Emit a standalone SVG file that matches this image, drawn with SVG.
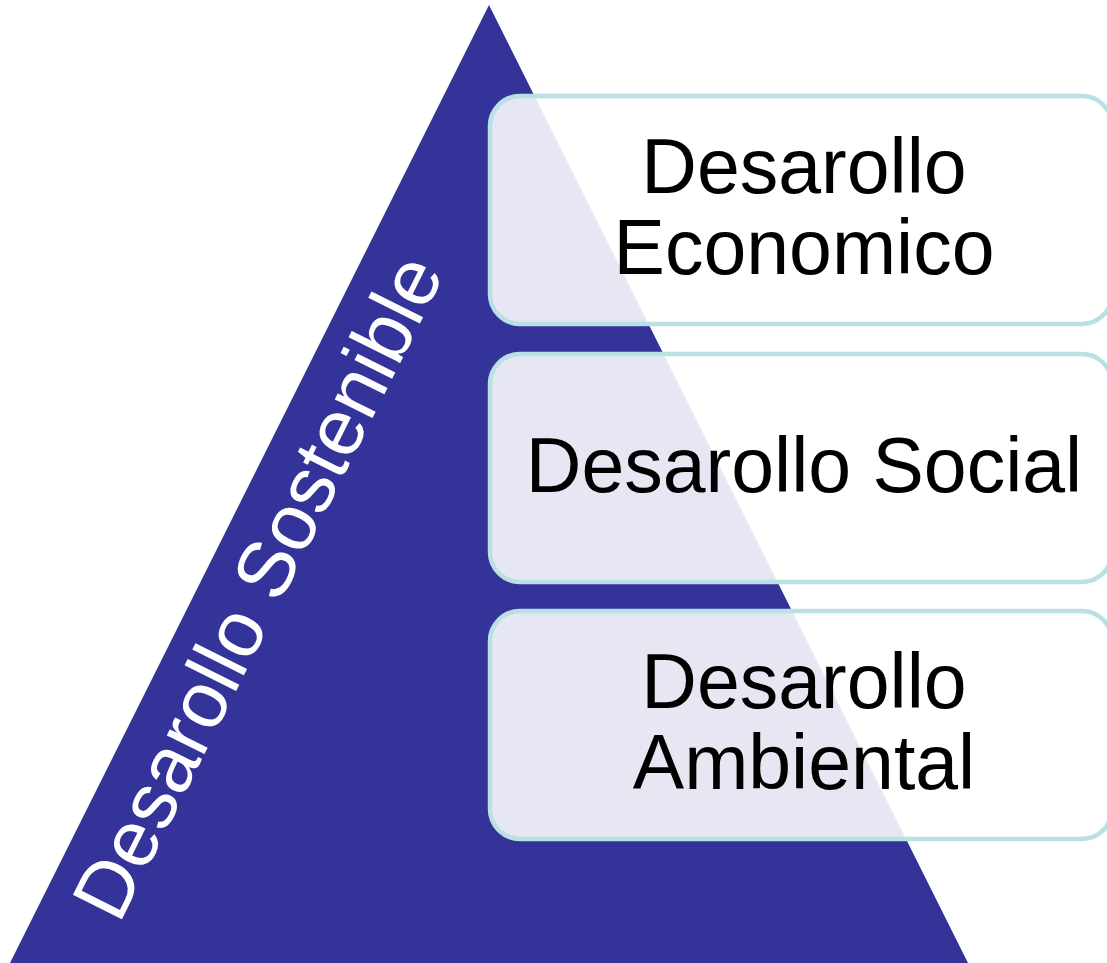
<svg xmlns="http://www.w3.org/2000/svg" width="1107" height="963" viewBox="0 0 1107 963">
  <style>
    .box { fill: #ffffff; fill-opacity: 0.885; stroke: #b9e0e3; stroke-width: 4.5; }
    .lbl { font-family: "Liberation Sans", Arial, sans-serif; font-size: 77px; fill: #000000; text-anchor: middle; }
    .side { font-family: "Liberation Sans", Arial, sans-serif; font-size: 79.5px; fill: #ffffff; }
  </style>
  <rect width="1107" height="963" fill="#ffffff"/>
  <g id="pyramid">
    <polygon points="489,5 10,963 968,963" fill="#333399"/>
    <text class="side" transform="translate(119,925) rotate(-63.43)">Desarollo Sostenible</text>
  </g>
  <g id="connectors"></g>
  <g id="node-economico">
    <rect class="box" x="490" y="96" width="622" height="228" rx="30" ry="30"/>
    <text class="lbl" x="804" y="193">Desarollo</text>
    <text class="lbl" x="804" y="274">Economico</text>
  </g>
  <g id="node-social">
    <rect class="box" x="490" y="354" width="622" height="228" rx="30" ry="30"/>
    <text class="lbl" x="804" y="492">Desarollo Social</text>
  </g>
  <g id="node-ambiental">
    <rect class="box" x="490" y="611" width="622" height="228" rx="30" ry="30"/>
    <text class="lbl" x="804" y="708">Desarollo</text>
    <text class="lbl" x="804" y="789">Ambiental</text>
  </g>
</svg>
